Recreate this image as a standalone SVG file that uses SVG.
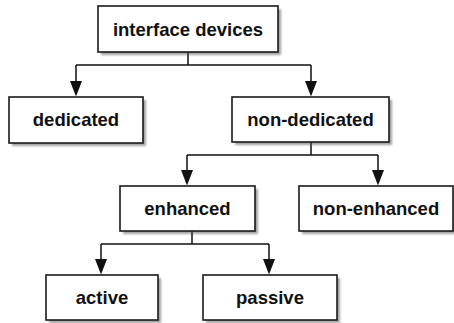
<svg xmlns="http://www.w3.org/2000/svg" width="454" height="323" viewBox="0 0 454 323">
<style>
.box{fill:#fff;stroke:#1a1a1a;stroke-width:1.6}
.sh{fill:#555;opacity:0.55;filter:url(#blur)}
.lbl{font-family:"Liberation Sans",Arial,sans-serif;font-weight:bold;font-size:18.5px;fill:#111;text-anchor:middle}
.con{fill:none;stroke:#111;stroke-width:1.5}
.ah{fill:#111}
</style>
<defs>
<filter id="blur" x="-10%" y="-10%" width="130%" height="140%"><feGaussianBlur stdDeviation="1.2"/></filter>
</defs>
<rect width="454" height="323" fill="#fff"/>
<g id="connectors">
<path class="con" d="M188,52 V65 M76,65 H311 M76,65 V83 M311,65 V83"/>
<polygon class="ah" points="70,81 82,81 76,96.5"/>
<polygon class="ah" points="305,81 317,81 311,96.5"/>
<path class="con" d="M311,142 V155 M187,155 H378 M187,155 V172 M378,155 V172"/>
<polygon class="ah" points="181,170 193,170 187,185.5"/>
<polygon class="ah" points="372,170 384,170 378,185.5"/>
<path class="con" d="M192,231 V244 M101,244 H269 M101,244 V261 M269,244 V261"/>
<polygon class="ah" points="95,259 107,259 101,274.5"/>
<polygon class="ah" points="263,259 275,259 269,274.5"/>
</g>
<g id="n1"><rect class="sh" x="101" y="9" width="180" height="46"/><rect class="box" x="98" y="6" width="180" height="46"/><text class="lbl" x="188" y="35.5">interface devices</text></g>
<g id="n2"><rect class="sh" x="12" y="100" width="134" height="46"/><rect class="box" x="9" y="97" width="134" height="46"/><text class="lbl" x="76" y="126">dedicated</text></g>
<g id="n3"><rect class="sh" x="235" y="100" width="157" height="45"/><rect class="box" x="232" y="97" width="157" height="45"/><text class="lbl" x="310.5" y="126">non-dedicated</text></g>
<g id="n4"><rect class="sh" x="123" y="189" width="135" height="45"/><rect class="box" x="120" y="186" width="135" height="45"/><text class="lbl" x="187.5" y="215">enhanced</text></g>
<g id="n5"><rect class="sh" x="302" y="189" width="154" height="45"/><rect class="box" x="299" y="186" width="154" height="45"/><text class="lbl" x="376" y="215">non-enhanced</text></g>
<g id="n6"><rect class="sh" x="49" y="278" width="112" height="45"/><rect class="box" x="46" y="275" width="112" height="45"/><text class="lbl" x="102" y="304">active</text></g>
<g id="n7"><rect class="sh" x="206" y="278" width="134" height="45"/><rect class="box" x="203" y="275" width="134" height="45"/><text class="lbl" x="270" y="304">passive</text></g>
</svg>
